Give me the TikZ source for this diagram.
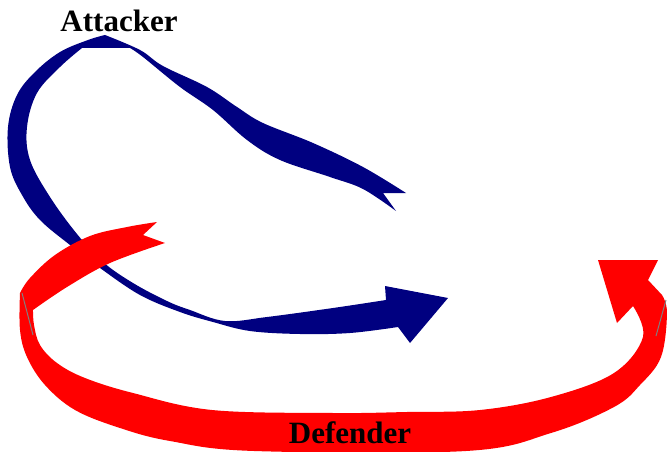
\documentclass[tikz,border=0pt]{standalone}
\usepackage{fontspec}
\setmainfont{Liberation Serif}
\definecolor{attackblue}{RGB}{0,0,128}
\definecolor{defendred}{RGB}{255,0,0}
\tikzset{
  ribbon/.style={line join=round},
  seam/.style={draw=gray, line width=1pt},
  caption/.style={font=\fontsize{31}{31}\selectfont\bfseries, anchor=base, inner sep=0pt}
}
\begin{document}
\begin{tikzpicture}[x=1pt,y=-1pt]
\useasboundingbox (0,0) rectangle (667,452);

% Attacker's ribbon: swallow-tail on the right, loop over the top, arrow head lower right
\fill[attackblue, ribbon]
  (406,193)
  -- plot[smooth, tension=0.6] coordinates {(406,193) (363,167) (313,143) (263,123) (237,107) (207,87) (163,66) (140,50) (105,35)}
  -- plot[smooth, tension=0.6] coordinates {(105,35) (88,40) (60,52) (35,72) (17,95) (8,127) (10,167) (22,195) (40,220) (70,245) (100,268) (140,295) (180,312) (213,322) (250,331) (300,334) (350,333) (398,327)}
  -- (410,343) -- (448,298) -- (385,286) -- (386,300)
  -- plot[smooth, tension=0.6] coordinates {(386,300) (333,308) (267,317) (225,321) (190,310) (167,301) (133,283) (103,262) (77,234) (50,197) (30,160) (27,127) (37,93) (60,67) (82,48)}
  -- (130,48)
  -- plot[smooth, tension=0.6] coordinates {(130,48) (143,57) (180,87) (213,110) (247,140) (280,160) (330,177) (363,189) (396,211)}
  -- (383,193) -- cycle;

% Defender's ribbon: swallow-tail upper left, sweep along the bottom, head turning back at right
\fill[defendred, ribbon]
  (157,222)
  -- plot[smooth, tension=0.6] coordinates {(157,222) (127,227) (90,236) (55,255) (30,278) (20,293)}
  -- plot[smooth, tension=0.6] coordinates {(20,293) (20,330) (27,357) (45,385) (75,410) (120,428) (170,441) (254,451) (466,451) (551,433) (614,407) (640,385) (661,357) (667,313) (662,295)}
  -- (648,280) -- (658,260) -- (598,260) -- (617,323) -- (633,306)
  -- plot[smooth, tension=0.6] coordinates {(633,306) (643,337) (614,373) (551,397) (480,410) (407,412) (333,413) (212,410) (133,393) (85,378) (57,363) (40,345) (34,325) (33,310)}
  -- plot[smooth, tension=0.6] coordinates {(33,310) (67,287) (110,263) (165,243)}
  -- (143,235) -- cycle;

% twist seams of the red ribbon
\draw[seam] (22,293) -- (33,335);
\draw[seam] (666,300) -- (656,336);

\node[caption] (attacker) at (119,32) {Attacker};
\node[caption] (defender) at (350,443) {Defender};
\end{tikzpicture}
\end{document}
